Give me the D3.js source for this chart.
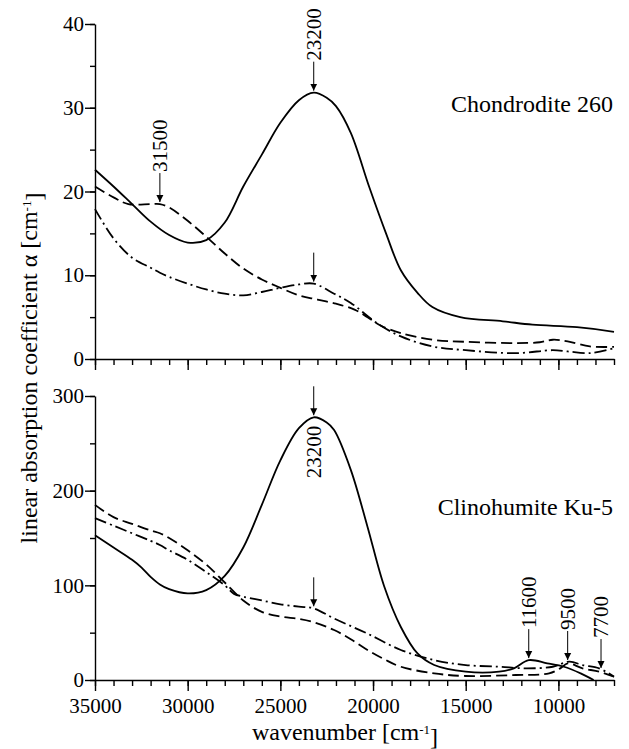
<!DOCTYPE html>
<html>
<head>
<meta charset="utf-8">
<script src="https://cdn.jsdelivr.net/npm/d3@7"></script>
<style>
  body { margin: 0; background: #fff; }
  svg text { font-family: "Liberation Serif", "DejaVu Serif", serif !important; fill: #000; }
</style>
</head>
<body>
<script>
// wavenumber [cm-1] / absorption coefficient pairs
var chondSolid = [
  [35000, 22.6], [34000, 20.6], [33000, 18.5], [32000, 16.4], [31000, 14.8],
  [30000, 13.9], [29000, 14.2], [28000, 16.3], [27000, 20.6], [26000, 24.4],
  [25000, 28.2], [24000, 30.9], [23200, 31.8], [22500, 31.2], [22000, 30.2],
  [21200, 27.0], [20200, 20.5], [19300, 15.0], [18500, 10.6], [17600, 7.9],
  [16800, 6.2], [15300, 5.0], [13000, 4.5], [11400, 4.1], [9000, 3.8], [7000, 3.25]
];
var chondDash = [
  [35000, 20.6], [34000, 19.3], [33200, 18.5], [32000, 18.5], [31500, 18.5],
  [31000, 18.1], [30000, 16.5], [29000, 14.6], [28000, 12.6], [27000, 10.8],
  [26000, 9.5], [25000, 8.5], [24000, 7.6], [23000, 7.1], [22000, 6.6],
  [21000, 5.9], [20300, 5.0], [19600, 4.0], [18500, 3.1], [16800, 2.3],
  [15000, 2.05], [12300, 1.9], [11000, 2.0], [10300, 2.3], [9500, 2.1],
  [8300, 1.5], [7000, 1.45]
];
var chondDashDot = [
  [35000, 17.9], [34000, 14.4], [33000, 12.1], [32000, 10.9], [31500, 10.3],
  [31000, 9.8], [30000, 9.0], [29000, 8.3], [28000, 7.8], [27000, 7.6],
  [26000, 8.0], [25000, 8.5], [24000, 8.9], [23200, 9.0], [22100, 7.8],
  [21200, 6.7], [19800, 4.3], [18500, 2.7], [16800, 1.5], [15000, 1.05],
  [12300, 0.7], [10300, 1.05], [9500, 0.9], [8300, 0.7], [7000, 1.3]
];

var clinoSolid = [
  [35000, 153], [34000, 140], [33000, 127], [32500, 119], [32000, 109],
  [31500, 101], [31000, 96], [30000, 91.5], [29000, 95], [28000, 110],
  [27000, 140], [26000, 185], [25000, 232], [24000, 266], [23200, 277.5],
  [22500, 272], [22100, 264], [21200, 222], [20300, 162], [19400, 99],
  [18500, 56], [17600, 28], [16700, 15.8], [15000, 8.8], [13200, 8.8],
  [12400, 12.3], [11600, 21], [10600, 17.6], [9700, 14], [8800, 7], [8100, 0]
];
var clinoDash = [
  [35000, 185], [34000, 172], [33000, 165], [32000, 158], [31500, 155],
  [31000, 150], [30000, 137], [29000, 122], [28000, 103], [27000, 84],
  [26000, 72], [25000, 67], [24000, 64.5], [23200, 61], [22100, 52.8],
  [21200, 43], [20300, 31.7], [19400, 22], [18500, 14], [16700, 7],
  [15000, 4.2], [12300, 5.3], [10500, 7], [9900, 12.3], [9500, 17.6],
  [8700, 12.3], [7800, 8.8], [7000, 3.5]
];
var clinoDashDot = [
  [35000, 171], [34000, 163], [33000, 155], [32000, 147], [31500, 142.6],
  [31000, 137], [30000, 127], [29000, 114], [28000, 100], [27500, 91],
  [27000, 88], [26000, 84], [25000, 80], [24000, 77.5], [23200, 75.7],
  [22100, 65], [20300, 49], [18500, 31.7], [16700, 21], [15000, 15.8],
  [13200, 14], [11700, 12.3], [10300, 14], [9400, 19.4], [8700, 15.8],
  [7800, 12.3], [7000, 3.5]
];

// arrows: [wavenumber, value pointed at, label, label side]
var chondArrows = [[23200, 31.8, "23200", "up"], [31500, 18.5, "31500", "up"], [23200, 9.0, "", "up"]];
var clinoArrows = [[23200, 277.5, "23200", "down"], [23200, 75.7, "", "up"],
                   [11600, 21, "11600", "up"], [9500, 19, "9500", "up"], [7700, 10.5, "7700", "up"]];

var xMajor = [35000, 30000, 25000, 20000, 15000, 10000];
var chondTicks = [0, 10, 20, 30, 40];
var clinoTicks = [0, 100, 200, 300];

var larg = 629, haut = 749;
var svg = d3.select("body").append("svg")
  .attr("width", larg).attr("height", haut);

var defs = svg.append("defs");
defs.append("marker")
  .attr("id", "head")
  .attr("viewBox", "0 0 10 10")
  .attr("refX", 10).attr("refY", 5)
  .attr("markerWidth", 7).attr("markerHeight", 9)
  .attr("markerUnits", "userSpaceOnUse")
  .attr("orient", "auto")
  .append("path").attr("d", "M0,0 L10,5 L0,10 z").attr("fill", "#000");

var x = d3.scaleLinear().domain([35000, 7000]).range([95, 614]);

var panels = [
  {y: d3.scaleLinear().domain([0, 40]).range([359, 24]), ticks: chondTicks, minor: 5,
   series: [chondSolid, chondDash, chondDashDot], arrows: chondArrows,
   name: "Chondrodite 260", nameY: 112, xLabels: false},
  {y: d3.scaleLinear().domain([0, 300]).range([680, 396]), ticks: clinoTicks, minor: 50,
   series: [clinoSolid, clinoDash, clinoDashDot], arrows: clinoArrows,
   name: "Clinohumite Ku-5", nameY: 515, xLabels: true}
];
var dashes = [null, "11,5", "12,4,2,4"];

panels.forEach(function(p) {
  var g = svg.append("g");
  var y = p.y;
  var y0 = y.range()[0];

  // minor ticks
  g.append("g").attr("transform", "translate(0," + y0 + ")")
    .call(d3.axisBottom(x).tickValues(d3.range(7000, 35001, 1000)).tickSize(6).tickSizeOuter(0).tickFormat(""));
  g.append("g").attr("transform", "translate(0," + y0 + ")")
    .call(d3.axisBottom(x).tickValues(xMajor).tickSize(11).tickSizeOuter(0).tickPadding(7)
      .tickFormat(p.xLabels ? d3.format("d") : ""))
    .call(function(a) { a.select(".domain").remove(); });

  g.append("g").attr("transform", "translate(95,0)")
    .call(d3.axisLeft(y).tickValues(d3.range(0, y.domain()[1] + 1, p.minor)).tickSize(5).tickSizeOuter(0).tickFormat(""));
  g.append("g").attr("transform", "translate(95,0)")
    .call(d3.axisLeft(y).tickValues(p.ticks).tickSize(10).tickSizeOuter(0).tickPadding(1).tickFormat(d3.format("d")))
    .call(function(a) { a.select(".domain").remove(); });

  g.selectAll("g").attr("font-family", null).attr("font-size", null);
  g.selectAll(".domain, .tick line").attr("stroke", "#000").attr("stroke-width", 1.4);
  g.selectAll(".tick text").style("font-size", "21px").attr("fill", "#000");

  var line = d3.line()
    .x(function(d) { return x(d[0]); })
    .y(function(d) { return y(d[1]); })
    .curve(d3.curveCatmullRom.alpha(0.5));

  g.selectAll("path.curve").data(p.series).enter().append("path")
    .attr("class", "curve")
    .attr("d", line)
    .attr("fill", "none")
    .attr("stroke", "#000")
    .attr("stroke-width", 1.8)
    .attr("stroke-dasharray", function(d, i) { return dashes[i]; });

  p.arrows.forEach(function(a) {
    var ax = x(a[0]);
    var tip = y(a[1]) - 2;
    g.append("line")
      .attr("x1", ax).attr("x2", ax)
      .attr("y1", tip - 29).attr("y2", tip)
      .attr("stroke", "#000").attr("stroke-width", 1)
      .attr("marker-end", "url(#head)");
    if (a[2]) {
      var ty = a[3] === "up" ? tip - 30 : y(a[1]) + 61;
      g.append("text")
        .attr("transform", "translate(" + ax + "," + ty + ") rotate(-90)")
        .attr("dy", "0.33em")
        .style("font-size", "21px")
        .text(a[2]);
    }
  });

  g.append("text")
    .attr("x", 613).attr("y", p.nameY)
    .attr("text-anchor", "end")
    .style("font-size", "24px")
    .text(p.name);
});

var yl = svg.append("text")
  .attr("transform", "translate(37,368) rotate(-90)")
  .attr("text-anchor", "middle")
  .style("font-size", "24px");
yl.append("tspan").text("linear absorption coefficient \u03b1 [cm");
yl.append("tspan").attr("dy", "-0.45em").style("font-size", "13px").text("-1");
yl.append("tspan").attr("dy", "0.45em").text("]");

var xl = svg.append("text")
  .attr("x", 345).attr("y", 740)
  .attr("text-anchor", "middle")
  .style("font-size", "24px");
xl.append("tspan").text("wavenumber [cm");
xl.append("tspan").attr("dy", "-0.45em").style("font-size", "13px").text("-1");
xl.append("tspan").attr("dy", "0.45em").text("]");
</script>
</body>
</html>
